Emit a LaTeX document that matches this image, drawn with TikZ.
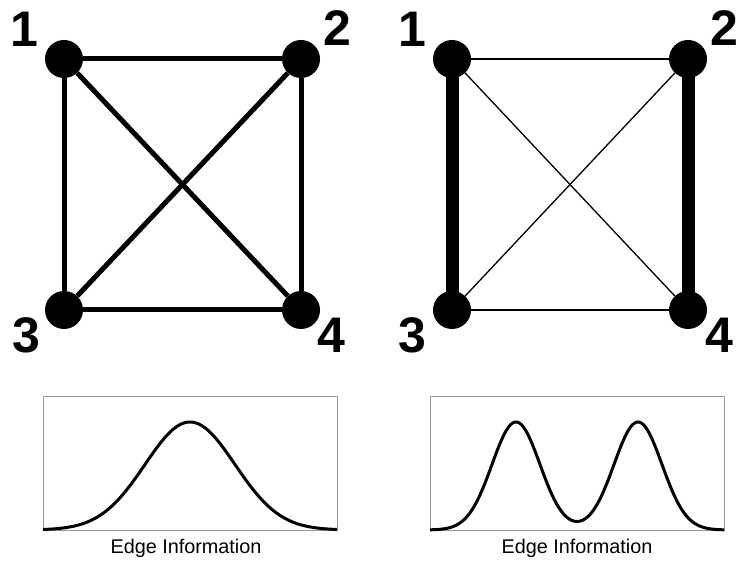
\documentclass[tikz,border=0pt]{standalone}
\usepackage{fontspec}
\setmainfont{Liberation Sans}
\begin{document}
\begin{tikzpicture}[x=1pt,y=-1pt,
  vert/.style={circle,fill=black,minimum size=38pt,inner sep=0pt},
  lab/.style={font=\fontsize{50}{50}\selectfont\bfseries,inner sep=0pt},
  medge/.style={line width=5pt},
  thinedge/.style={line width=1.3pt},
  thickedge/.style={line width=13pt},
  frame/.style={draw=gray!80,line width=1pt},
  curve/.style={line width=3pt,line join=round},
  captxt/.style={font=\fontsize{19.8}{20}\selectfont,inner sep=0pt}]
\useasboundingbox (0,0) rectangle (737,561);
% left graph
\node[vert] (a1) at (64,59) {};
\node[vert] (a2) at (301,59) {};
\node[vert] (a3) at (64,310) {};
\node[vert] (a4) at (301,310) {};
\draw[medge] (a1) -- (a2);
\draw[medge] (a1) -- (a3);
\draw[medge] (a2) -- (a4);
\draw[medge] (a3) -- (a4);
\draw[medge] (a1) -- (a4);
\draw[medge] (a2) -- (a3);
\node[lab] (la1) at (24,29) {1};
\node[lab] (la2) at (337,28) {2};
\node[lab] (la3) at (26,335) {3};
\node[lab] (la4) at (331,335) {4};
% right graph
\node[vert] (b1) at (452,59) {};
\node[vert] (b2) at (688,59) {};
\node[vert] (b3) at (452,310) {};
\node[vert] (b4) at (688,310) {};
\draw[thinedge] (b1) -- (b2);
\draw[thinedge] (b3) -- (b4);
\draw[thinedge] (b1) -- (b4);
\draw[thinedge] (b2) -- (b3);
\draw[thickedge] (b1.center) -- (b3.center);
\draw[thickedge] (b2.center) -- (b4.center);
\node[lab] (lb1) at (412,29) {1};
\node[lab] (lb2) at (724,28) {2};
\node[lab] (lb3) at (412,335) {3};
\node[lab] (lb4) at (719,335) {4};
% left plot
\node[frame,minimum width=294pt,minimum height=133pt,inner sep=0pt] (p1) at (190,463.5) {};
\draw[curve] plot[domain=43:337,samples=150,smooth] (\x,{530-108*exp(-0.5*((\x-190)/45)^2)});
\node[captxt] (c1) at (186,548) {Edge Information};
% right plot
\node[frame,minimum width=294pt,minimum height=133pt,inner sep=0pt] (p2) at (577,463.5) {};
\draw[curve] plot[domain=430:724,samples=200,smooth] (\x,{530-108*(exp(-0.5*((\x-516)/24)^2)+exp(-0.5*((\x-638)/24)^2))});
\node[captxt] (c2) at (577,548) {Edge Information};
\end{tikzpicture}
\end{document}
